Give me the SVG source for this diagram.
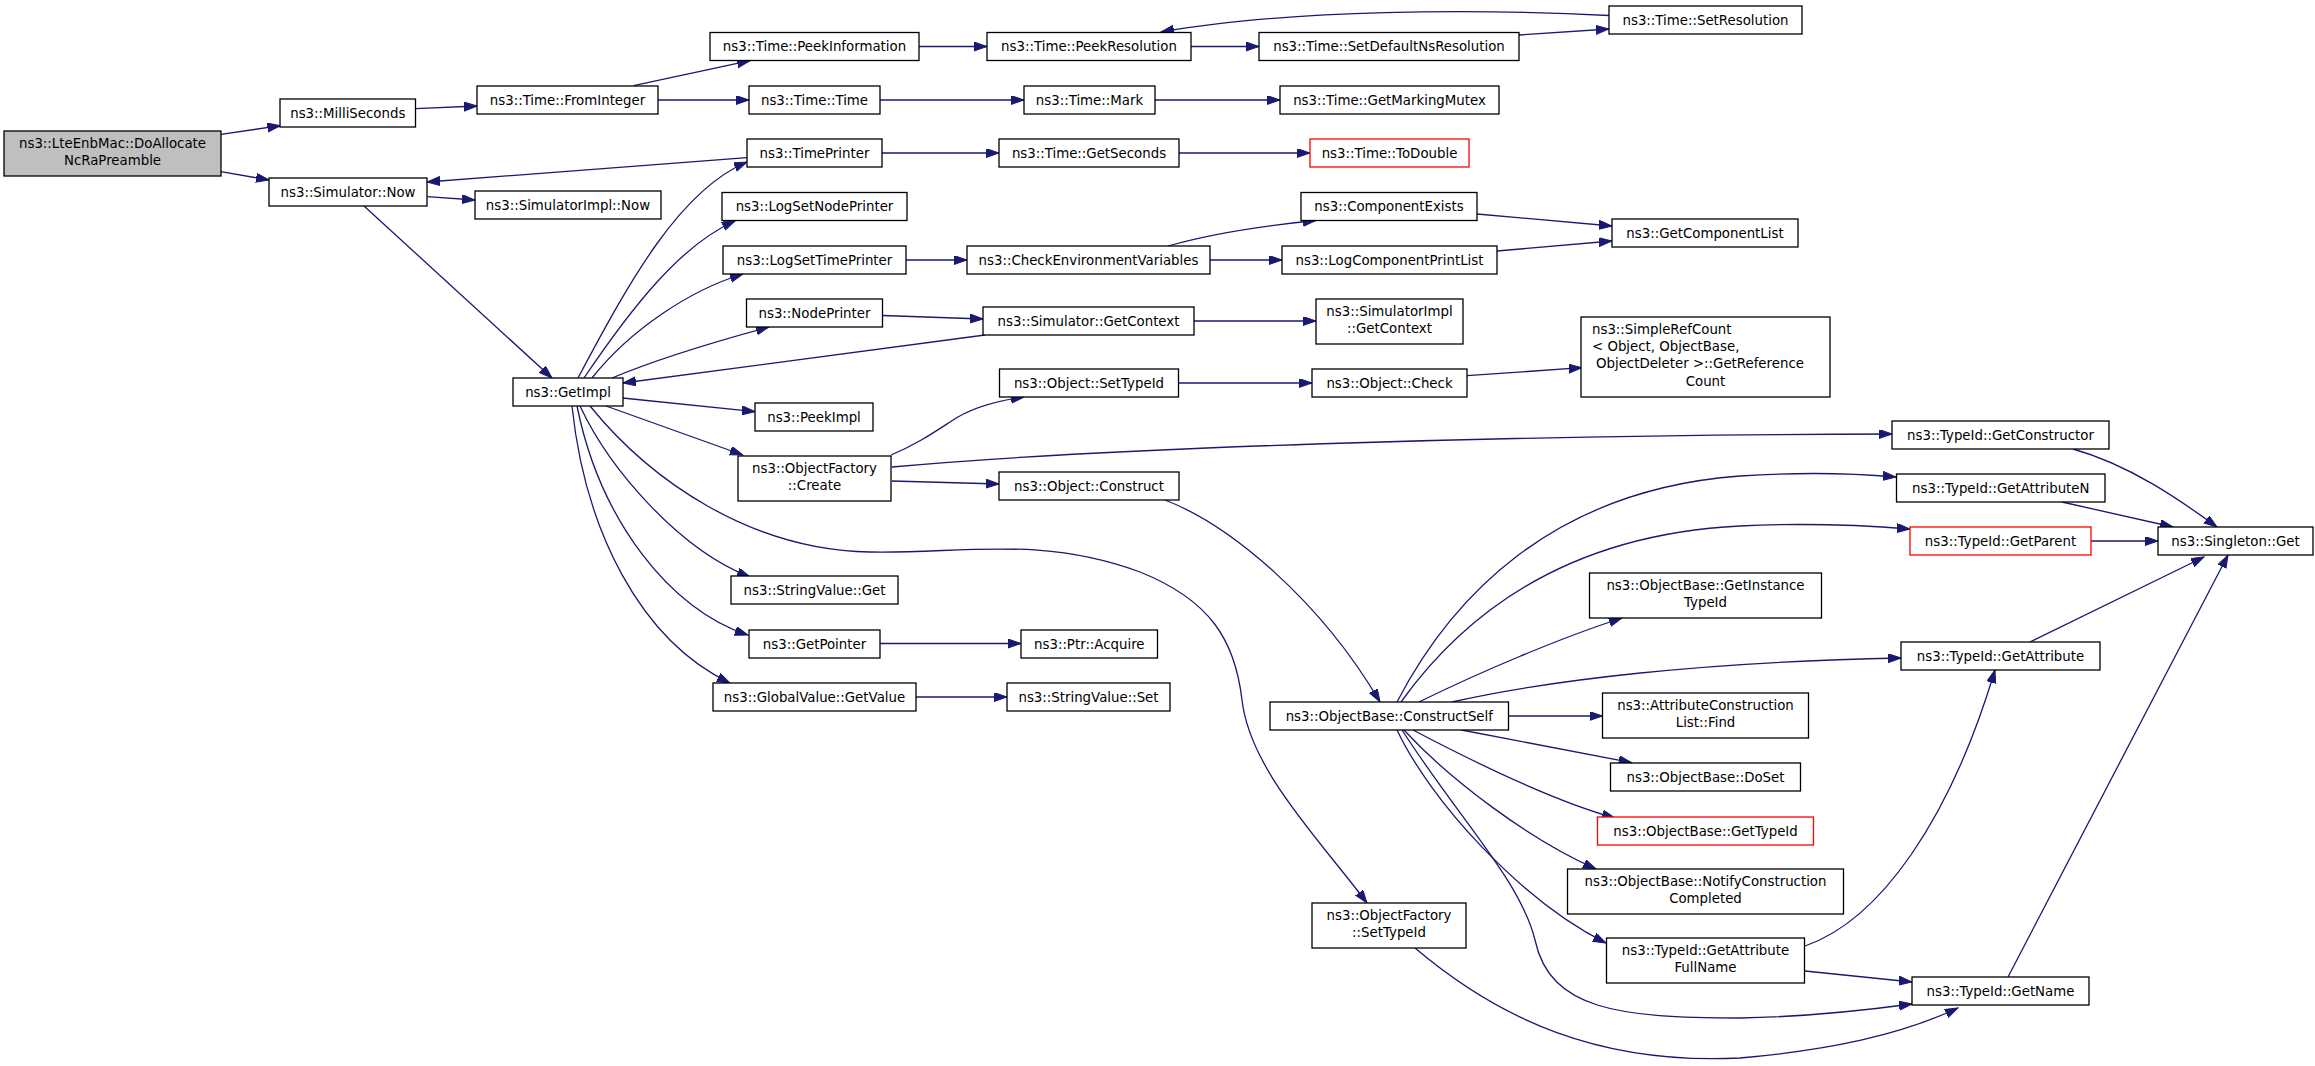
<svg xmlns="http://www.w3.org/2000/svg" width="2315" height="1066" viewBox="0 0 2315 1066">
<style>
rect{fill:#fff;stroke:#000;stroke-width:1.3}
rect.g{fill:#bfbfbf}
rect.r{stroke:#f00}
text{font-family:"DejaVu Sans","Liberation Sans",sans-serif;font-size:13.33px;text-anchor:middle;fill:#000}
text.l{text-anchor:start}
#edges path{fill:none;stroke:#191970;stroke-width:1.3;marker-end:url(#a)}
</style>
<defs>
<marker id="a" markerUnits="userSpaceOnUse" markerWidth="14" markerHeight="10" refX="13" refY="4.5" orient="auto"><path d="M0,0 L13,4.5 L0,9 z" fill="#191970" stroke="#191970" stroke-width="1"/></marker>
</defs>
<rect x="0" y="0" width="2315" height="1066" style="fill:#fff;stroke:none"/>
<g id="edges">
<path d="M221,134.3 L280.4,125.7"/>
<path d="M221,171.7 L269,180"/>
<path d="M415.5,108.7 L477,106"/>
<path d="M633.6,85.7 L750,60.7"/>
<path d="M658,100 L749,100"/>
<path d="M919,46.5 L987,46.5"/>
<path d="M1191,46.5 L1259,46.5"/>
<path d="M1519,35 L1609,29"/>
<path d="M1609,15.5 C1480,9 1290,9 1161,32"/>
<path d="M880,100 L1024,100"/>
<path d="M1155,100 L1280,100"/>
<path d="M747,157.7 L427,182"/>
<path d="M882,153 L999,153"/>
<path d="M1179,153 L1310,153"/>
<path d="M427,196.7 L475,200"/>
<path d="M364,206 L552,378"/>
<path d="M578,378 C630,280 680,190 747,162"/>
<path d="M584,378 C630,310 680,245 735,221"/>
<path d="M592,378 C630,330 690,290 743,274"/>
<path d="M612,378 C650,362 710,343 769,327"/>
<path d="M906,260 L967,260"/>
<path d="M1168,246 C1210,234 1260,226 1316,220.5"/>
<path d="M1210,260 L1282,260"/>
<path d="M1477,214 L1612,226"/>
<path d="M1497,251 L1612,241"/>
<path d="M882.6,315.5 L983,319"/>
<path d="M985,335 L623,383"/>
<path d="M1194,321 L1316,321"/>
<path d="M622.5,398 L755,411.7"/>
<path d="M606,406 L742.8,455"/>
<path d="M580,406 C610,470 680,550 750,577"/>
<path d="M577,406 C600,520 670,610 748,635"/>
<path d="M572,406 C585,530 640,640 730,683"/>
<path d="M590,406 C650,480 750,550 870,552 C960,554 1040,535 1140,572 C1210,600 1235,640 1242,700 C1250,770 1320,840 1367,903"/>
<path d="M891,455 C915,445 930,435 950,422 C970,408 995,401 1024,397"/>
<path d="M892,467 C1100,448 1500,435 1892,434"/>
<path d="M892,481 L999,484"/>
<path d="M1178.5,383 L1312,383"/>
<path d="M1467,375.7 L1581.8,367.7"/>
<path d="M2073,449 C2130,465 2180,500 2217,527"/>
<path d="M2062,502 L2173,527"/>
<path d="M2091,541 L2158,541"/>
<path d="M2030,642 L2204,557"/>
<path d="M2008,977 L2228,555"/>
<path d="M1165,500 C1230,525 1320,600 1380,702"/>
<path d="M1397,702 C1450,600 1550,490 1740,476 C1800,472 1850,473 1896,477"/>
<path d="M1401,702 C1460,620 1560,535 1740,526 C1800,523 1860,525 1910,529"/>
<path d="M1419,702 C1480,672 1560,638 1622,618"/>
<path d="M1452,702 C1550,680 1700,662 1901,658"/>
<path d="M1508.5,716 L1602.5,716"/>
<path d="M1461.5,730 L1631.7,762.7"/>
<path d="M1413,730 C1470,760 1550,800 1615,818"/>
<path d="M1404,730 C1450,780 1530,840 1596,869"/>
<path d="M1397,730 C1430,800 1520,900 1606,943"/>
<path d="M1402,730 C1460,820 1520,880 1535,940 C1550,1010 1620,1018 1740,1018 C1800,1017 1860,1011 1912,1004"/>
<path d="M1805,946 C1880,920 1950,820 1995,670"/>
<path d="M1805,971 L1912,982"/>
<path d="M880,643.5 L1021,643.5"/>
<path d="M916,697 L1007,697"/>
<path d="M1415,948 C1500,1020 1600,1065 1740,1058 C1830,1050 1900,1035 1958,1008"/>
</g>
<g id="n_lteenbmac"><rect class="g" x="4" y="131" width="217" height="45"/><text x="112.5" y="148">ns3::LteEnbMac::DoAllocate</text><text x="112.5" y="165">NcRaPreamble</text></g>
<g id="n_milliseconds"><rect x="280" y="99" width="135.5" height="28"/><text x="347.8" y="117.5">ns3::MilliSeconds</text></g>
<g id="n_simnow"><rect x="269" y="178" width="158" height="28"/><text x="348" y="196.5">ns3::Simulator::Now</text></g>
<g id="n_frominteger"><rect x="477" y="86" width="181" height="28"/><text x="567.5" y="104.5">ns3::Time::FromInteger</text></g>
<g id="n_simimplnow"><rect x="475" y="191" width="186" height="28"/><text x="568" y="209.5">ns3::SimulatorImpl::Now</text></g>
<g id="n_peekinfo"><rect x="710" y="32.5" width="209" height="28"/><text x="814.5" y="51">ns3::Time::PeekInformation</text></g>
<g id="n_peekres"><rect x="987" y="32.5" width="204" height="28"/><text x="1089" y="51">ns3::Time::PeekResolution</text></g>
<g id="n_setdefns"><rect x="1259" y="32.5" width="260" height="28"/><text x="1389" y="51">ns3::Time::SetDefaultNsResolution</text></g>
<g id="n_setres"><rect x="1609" y="6" width="193" height="28"/><text x="1705.5" y="24.5">ns3::Time::SetResolution</text></g>
<g id="n_timetime"><rect x="749" y="86" width="131" height="28"/><text x="814.5" y="104.5">ns3::Time::Time</text></g>
<g id="n_timemark"><rect x="1024" y="86" width="131" height="28"/><text x="1089.5" y="104.5">ns3::Time::Mark</text></g>
<g id="n_markmutex"><rect x="1280" y="86" width="219" height="28"/><text x="1389.5" y="104.5">ns3::Time::GetMarkingMutex</text></g>
<g id="n_timeprinter"><rect x="747" y="139" width="135" height="28"/><text x="814.5" y="157.5">ns3::TimePrinter</text></g>
<g id="n_getseconds"><rect x="999" y="139" width="180" height="28"/><text x="1089" y="157.5">ns3::Time::GetSeconds</text></g>
<g id="n_todouble"><rect class="r" x="1310" y="139" width="159" height="28"/><text x="1389.5" y="157.5">ns3::Time::ToDouble</text></g>
<g id="n_logsetnode"><rect x="722" y="192.5" width="185" height="28"/><text x="814.5" y="211">ns3::LogSetNodePrinter</text></g>
<g id="n_logsettime"><rect x="723" y="246" width="183" height="28"/><text x="814.5" y="264.5">ns3::LogSetTimePrinter</text></g>
<g id="n_checkenv"><rect x="967" y="246" width="243" height="28"/><text x="1088.5" y="264.5">ns3::CheckEnvironmentVariables</text></g>
<g id="n_compexists"><rect x="1301" y="192.5" width="176" height="28"/><text x="1389" y="211">ns3::ComponentExists</text></g>
<g id="n_logcompprint"><rect x="1282" y="246" width="215" height="28"/><text x="1389.5" y="264.5">ns3::LogComponentPrintList</text></g>
<g id="n_getcomplist"><rect x="1612" y="219" width="186" height="28"/><text x="1705" y="237.5">ns3::GetComponentList</text></g>
<g id="n_nodeprinter"><rect x="746.5" y="299" width="136" height="28"/><text x="814.5" y="317.5">ns3::NodePrinter</text></g>
<g id="n_simgetctx"><rect x="983" y="307" width="211" height="28"/><text x="1088.5" y="325.5">ns3::Simulator::GetContext</text></g>
<g id="n_simimplgetctx"><rect x="1316" y="299" width="147" height="45"/><text x="1389.5" y="316">ns3::SimulatorImpl</text><text x="1389.5" y="333">::GetContext</text></g>
<g id="n_simplerefcount"><rect x="1581" y="317" width="249" height="80"/><text class="l" x="1592" y="334.3">ns3::SimpleRefCount</text><text class="l" x="1592" y="351">&lt; Object, ObjectBase,</text><text class="l" x="1596" y="368.3">ObjectDeleter &gt;::GetReference</text><text x="1705.5" y="386">Count</text></g>
<g id="n_getimpl"><rect x="513" y="378" width="110" height="28"/><text x="568" y="396.5">ns3::GetImpl</text></g>
<g id="n_peekimpl"><rect x="755" y="403" width="118" height="28"/><text x="814" y="421.5">ns3::PeekImpl</text></g>
<g id="n_ofcreate"><rect x="738" y="456" width="153" height="45"/><text x="814.5" y="473">ns3::ObjectFactory</text><text x="814.5" y="490">::Create</text></g>
<g id="n_objsettypeid"><rect x="999.5" y="369" width="179" height="28"/><text x="1089" y="387.5">ns3::Object::SetTypeId</text></g>
<g id="n_objcheck"><rect x="1312" y="369" width="155" height="28"/><text x="1389.5" y="387.5">ns3::Object::Check</text></g>
<g id="n_getconstructor"><rect x="1892" y="421" width="217" height="28"/><text x="2000.5" y="439.5">ns3::TypeId::GetConstructor</text></g>
<g id="n_objconstruct"><rect x="999" y="472" width="180" height="28"/><text x="1089" y="490.5">ns3::Object::Construct</text></g>
<g id="n_getattrn"><rect x="1896.5" y="474" width="208.5" height="28"/><text x="2000.8" y="492.5">ns3::TypeId::GetAttributeN</text></g>
<g id="n_getparent"><rect class="r" x="1910" y="527" width="181" height="28"/><text x="2000.5" y="545.5">ns3::TypeId::GetParent</text></g>
<g id="n_singletonget"><rect x="2158" y="527" width="155" height="28"/><text x="2235.5" y="545.5">ns3::Singleton::Get</text></g>
<g id="n_getinstancetypeid"><rect x="1589.5" y="573" width="232" height="45"/><text x="1705.5" y="590">ns3::ObjectBase::GetInstance</text><text x="1705.5" y="607">TypeId</text></g>
<g id="n_svget"><rect x="731" y="576" width="167" height="28"/><text x="814.5" y="594.5">ns3::StringValue::Get</text></g>
<g id="n_getpointer"><rect x="749" y="630" width="131" height="28"/><text x="814.5" y="648.5">ns3::GetPointer</text></g>
<g id="n_ptracquire"><rect x="1021" y="630" width="136.5" height="28"/><text x="1089.3" y="648.5">ns3::Ptr::Acquire</text></g>
<g id="n_getattribute"><rect x="1901" y="642" width="199" height="28"/><text x="2000.5" y="660.5">ns3::TypeId::GetAttribute</text></g>
<g id="n_gvgetvalue"><rect x="713" y="683" width="203" height="28"/><text x="814.5" y="701.5">ns3::GlobalValue::GetValue</text></g>
<g id="n_svset"><rect x="1007" y="683" width="163" height="28"/><text x="1088.5" y="701.5">ns3::StringValue::Set</text></g>
<g id="n_constructself"><rect x="1270" y="702" width="238.5" height="28"/><text x="1389.3" y="720.5">ns3::ObjectBase::ConstructSelf</text></g>
<g id="n_aclfind"><rect x="1602.5" y="693" width="206" height="45"/><text x="1705.5" y="710">ns3::AttributeConstruction</text><text x="1705.5" y="727">List::Find</text></g>
<g id="n_doset"><rect x="1610.5" y="763" width="190" height="28"/><text x="1705.5" y="781.5">ns3::ObjectBase::DoSet</text></g>
<g id="n_obgettypeid"><rect class="r" x="1597.5" y="817" width="216" height="28"/><text x="1705.5" y="835.5">ns3::ObjectBase::GetTypeId</text></g>
<g id="n_notify"><rect x="1567.5" y="869" width="276" height="45"/><text x="1705.5" y="886">ns3::ObjectBase::NotifyConstruction</text><text x="1705.5" y="903">Completed</text></g>
<g id="n_ofsettypeid"><rect x="1312" y="903" width="154" height="45"/><text x="1389" y="920">ns3::ObjectFactory</text><text x="1389" y="937">::SetTypeId</text></g>
<g id="n_getattrfullname"><rect x="1606.5" y="938" width="198" height="45"/><text x="1705.5" y="955">ns3::TypeId::GetAttribute</text><text x="1705.5" y="972">FullName</text></g>
<g id="n_getname"><rect x="1912" y="977" width="177" height="28"/><text x="2000.5" y="995.5">ns3::TypeId::GetName</text></g>
</svg>
